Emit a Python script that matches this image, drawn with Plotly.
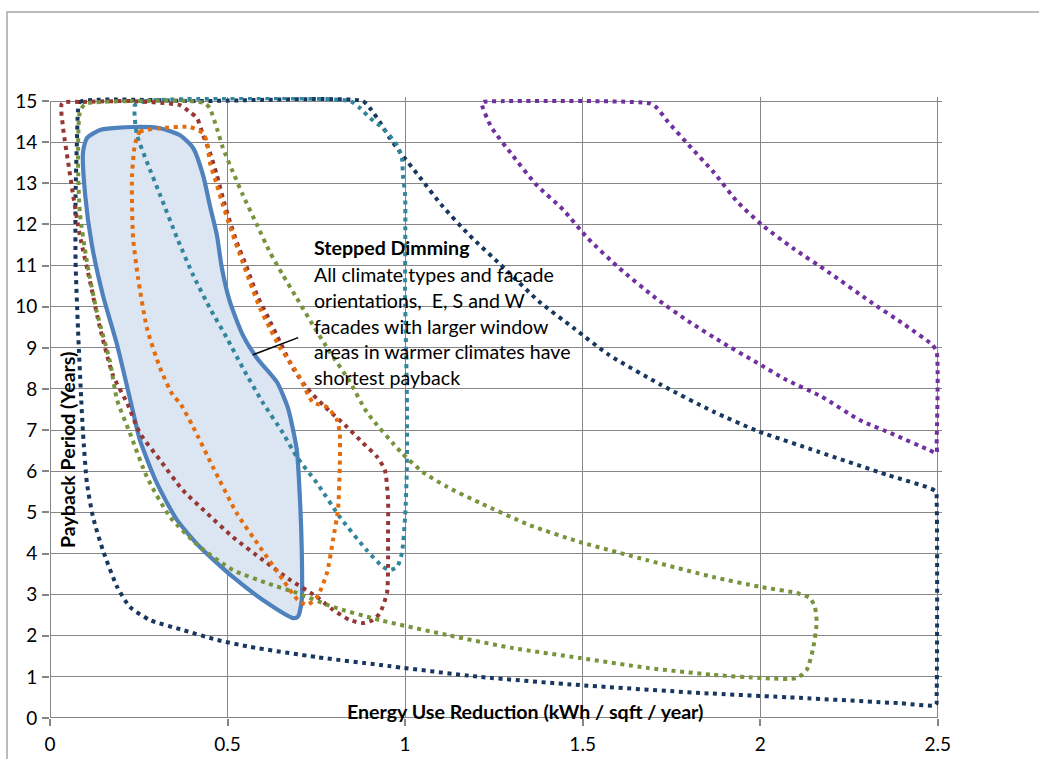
import plotly.graph_objects as go

# ---------------- data ----------------
blue_x = [0.093, 0.104, 0.141, 0.234, 0.310, 0.366, 0.403, 0.431, 0.450, 0.470, 0.484, 0.507, 0.543, 0.583,
          0.639, 0.670, 0.695, 0.704, 0.709, 0.709, 0.698, 0.684, 0.611, 0.515, 0.422, 0.358, 0.301, 0.253,
          0.234, 0.189, 0.149, 0.118, 0.099, 0.093]
blue_y = [13.76, 14.10, 14.30, 14.37, 14.34, 14.17, 13.86, 13.20, 12.47, 11.74, 10.94, 10.11, 9.31, 8.75,
          8.17, 7.54, 6.52, 5.30, 4.08, 2.87, 2.46, 2.43, 2.80, 3.43, 4.16, 4.81, 5.71, 6.76,
          7.44, 9.07, 10.28, 11.50, 12.72, 13.76]

navy_x = [0.079, 0.084, 0.422, 0.881, 0.901, 0.929, 0.957, 0.985, 1.044, 1.103, 1.181, 1.279, 1.377, 1.475,
          1.574, 1.721, 1.868, 1.995, 2.162, 2.358, 2.494, 2.497, 2.497, 2.495, 2.393, 2.111, 1.830, 1.492,
          1.211, 0.929, 0.752, 0.563, 0.470, 0.374, 0.282, 0.225, 0.189, 0.149, 0.121, 0.104, 0.093, 0.088,
          0.079, 0.072, 0.072, 0.076, 0.079]
navy_y = [14.78, 14.98, 15.0, 15.0, 14.83, 14.49, 14.10, 13.77, 13.12, 12.47, 11.74, 10.94, 10.13, 9.48,
          8.83, 8.10, 7.45, 6.97, 6.48, 5.91, 5.51, 5.25, 0.55, 0.32, 0.36, 0.49, 0.61, 0.80,
          1.00, 1.29, 1.48, 1.73, 1.90, 2.14, 2.38, 2.70, 3.19, 4.08, 4.89, 5.71, 6.93, 7.73,
          9.43, 11.09, 12.72, 14.10, 14.78]

purple_x = [1.216, 1.221, 1.279, 1.691, 1.711, 1.740, 1.799, 1.868, 1.936, 2.005, 2.093, 2.191, 2.309, 2.407,
            2.485, 2.497, 2.497, 2.497, 2.475, 2.377, 2.279, 2.172, 2.074, 1.985, 1.897, 1.799, 1.706, 1.603,
            1.515, 1.446, 1.368, 1.302, 1.242, 1.216]
purple_y = [14.94, 14.98, 15.0, 14.94, 14.82, 14.50, 13.93, 13.28, 12.55, 11.99, 11.42, 10.85, 10.13, 9.56,
            9.07, 8.90, 6.65, 6.44, 6.52, 6.89, 7.25, 7.82, 8.22, 8.67, 9.11, 9.64, 10.21, 10.94,
            11.66, 12.35, 12.98, 13.69, 14.38, 14.94]

teal_x = [0.239, 0.267, 0.845, 0.873, 0.901, 0.938, 0.977, 0.991, 0.994, 1.000, 1.000, 1.005, 1.005, 1.000,
          0.991, 0.977, 0.957, 0.938, 0.892, 0.816, 0.752, 0.695, 0.656, 0.600, 0.543, 0.498, 0.450, 0.403,
          0.358, 0.310, 0.273, 0.245, 0.239, 0.239]
teal_y = [14.90, 15.0, 15.0, 14.83, 14.59, 14.34, 13.93, 13.62, 13.20, 12.72, 10.28, 7.85, 6.10, 4.89,
          4.01, 3.67, 3.60, 3.67, 4.08, 4.89, 5.71, 6.35, 6.93, 7.66, 8.51, 9.24, 9.97, 10.77,
          11.67, 12.72, 13.52, 14.17, 14.59, 14.90]

red_x = [0.034, 0.093, 0.225, 0.366, 0.394, 0.414, 0.431, 0.450, 0.470, 0.487, 0.507, 0.526, 0.555, 0.583,
         0.611, 0.648, 0.684, 0.724, 0.769, 0.836, 0.881, 0.921, 0.943, 0.952, 0.952, 0.952, 0.949, 0.929,
         0.909, 0.881, 0.845, 0.797, 0.752, 0.676, 0.600, 0.515, 0.442, 0.374, 0.310, 0.253, 0.217, 0.177,
         0.141, 0.113, 0.084, 0.065, 0.051, 0.037, 0.034]
red_y = [14.95, 14.98, 15.0, 14.90, 14.73, 14.59, 14.17, 13.76, 13.20, 12.64, 12.06, 11.57, 10.94, 10.28,
         9.80, 9.14, 8.51, 8.02, 7.61, 7.08, 6.69, 6.35, 6.03, 5.30, 4.50, 3.67, 3.04, 2.55,
         2.38, 2.31, 2.38, 2.63, 2.94, 3.36, 3.84, 4.40, 4.98, 5.54, 6.27, 6.93, 7.66, 8.34,
         9.48, 10.60, 11.74, 12.72, 13.52, 14.34, 14.95]

orange_x = [0.239, 0.253, 0.310, 0.394, 0.431, 0.442, 0.450, 0.470, 0.487, 0.512, 0.535, 0.563, 0.591, 0.619,
            0.648, 0.676, 0.704, 0.740, 0.780, 0.808, 0.816, 0.816, 0.811, 0.797, 0.780, 0.752, 0.724, 0.698,
            0.656, 0.591, 0.526, 0.459, 0.403, 0.366, 0.346, 0.310, 0.273, 0.248, 0.234, 0.231, 0.231, 0.239]
orange_y = [13.93, 14.25, 14.34, 14.37, 14.22, 14.00, 13.52, 12.96, 12.47, 11.82, 11.26, 10.60, 9.97, 9.48,
            9.00, 8.66, 8.27, 7.68, 7.56, 7.25, 6.93, 6.10, 5.06, 4.33, 3.53, 2.94, 2.75, 2.87,
            3.36, 4.16, 4.98, 6.10, 7.08, 7.66, 7.85, 8.51, 9.48, 10.70, 11.67, 12.47, 13.20, 13.93]

green_x = [0.099, 0.225, 0.394, 0.436, 0.450, 0.470, 0.487, 0.515, 0.543, 0.583, 0.619, 0.656, 0.695, 0.740,
           0.788, 0.845, 0.892, 0.991, 1.050, 1.118, 1.211, 1.351, 1.492, 1.681, 1.867, 1.999, 2.103, 2.140,
           2.154, 2.159, 2.148, 2.131, 2.103, 2.007, 1.867, 1.681, 1.492, 1.303, 1.118, 0.929, 0.797, 0.695,
           0.611, 0.515, 0.422, 0.338, 0.273, 0.225, 0.189, 0.169, 0.132, 0.104, 0.084, 0.079, 0.084, 0.099]
green_y = [14.93, 15.0, 15.0, 14.95, 14.83, 14.34, 13.86, 13.28, 12.72, 11.99, 11.33, 10.77, 10.21, 9.56,
           8.90, 8.17, 7.44, 6.44, 5.98, 5.62, 5.23, 4.69, 4.28, 3.84, 3.43, 3.19, 3.04, 2.92,
           2.70, 2.31, 1.65, 1.17, 0.97, 0.97, 1.05, 1.22, 1.46, 1.70, 2.02, 2.38, 2.70, 3.04,
           3.28, 3.60, 4.16, 4.89, 5.86, 6.93, 7.73, 8.66, 9.87, 11.09, 12.30, 13.52, 14.73, 14.93]

pointer_x = [0.571, 0.699]
pointer_y = [8.83, 9.25]

x_ticks = [0, 0.5, 1, 1.5, 2, 2.5]
x_tick_labels = ["0", "0.5", "1", "1.5", "2", "2.5"]
y_ticks = list(range(0, 16))
x_max, y_max = 2.5, 15

note_title = "Stepped Dimming"
note_lines = ["All climate types and facade",
              "orientations,\u00a0 E, S and W",
              "facades with larger window",
              "areas in warmer climates have",
              "shortest payback"]
note_x = 0.7376
note_y = [11.43, 10.79, 10.16, 9.51, 8.90, 8.27]

x_title = "Energy Use Reduction (kWh / sqft / year)"
y_title = "Payback Period (Years)"

# ---------------- figure ----------------
FONT = "Lato, Calibri, Carlito, sans-serif"
TXT = 19.6
DOT = "4px,4.6px"
AXIS_COL = "#868686"

fig = go.Figure()

fig.add_trace(go.Scatter(x=blue_x, y=blue_y, mode="lines", fill="toself",
                         fillcolor="#DCE6F2", line=dict(color="#4F81BD", width=4.2, shape="spline", smoothing=0.6),
                         hoverinfo="skip", showlegend=False))

dotted = [
    (navy_x, navy_y, "#17375E"),
    (purple_x, purple_y, "#7030A0"),
    (teal_x, teal_y, "#31859C"),
    (red_x, red_y, "#953735"),
    (green_x, green_y, "#77933C"),
    (orange_x, orange_y, "#E46C0A"),
]
for xs, ys, col in dotted:
    fig.add_trace(go.Scatter(x=xs, y=ys, mode="lines",
                             line=dict(color=col, width=4, dash=DOT, shape="spline", smoothing=0.6),
                             hoverinfo="skip", showlegend=False))

fig.add_trace(go.Scatter(x=pointer_x, y=pointer_y, mode="lines",
                         line=dict(color="black", width=1.5), hoverinfo="skip", showlegend=False))

annotations = [dict(x=note_x, y=note_y[0], xref="x", yref="y", text="<b>" + note_title + "</b>",
                    showarrow=False, xanchor="left", yanchor="middle",
                    font=dict(family=FONT, size=TXT, color="black"))]
for txt, yy in zip(note_lines, note_y[1:]):
    annotations.append(dict(x=note_x, y=yy, xref="x", yref="y", text=txt, showarrow=False,
                            xanchor="left", yanchor="middle",
                            font=dict(family=FONT, size=TXT, color="black")))
annotations.append(dict(x=0.5325, y=0.0097, xref="paper", yref="paper", text="<b>" + x_title + "</b>",
                        showarrow=False, xanchor="center", yanchor="middle",
                        font=dict(family=FONT, size=TXT, color="black")))
annotations.append(dict(x=0.0202, y=0.4316, xref="paper", yref="paper", text="<b>" + y_title + "</b>",
                        showarrow=False, xanchor="center", yanchor="middle", textangle=-90,
                        font=dict(family=FONT, size=TXT, color="black")))

shapes = [
    # outer chart frame (left and top edges visible)
    dict(type="rect", xref="paper", yref="paper", x0=-0.0482, x1=1.2, y0=-0.2, y1=1.1369,
         line=dict(color="#A6A6A6", width=1.5), fillcolor="rgba(0,0,0,0)", layer="below"),
    # small white gap in top gridline
    dict(type="rect", xref="x", yref="y", x0=0.985, x1=1.018, y0=14.78, y1=15.15,
         line=dict(width=0), fillcolor="white", layer="below"),
    # axis lines (drawn exactly over the data range)
    dict(type="line", xref="x", yref="y", x0=0, x1=x_max, y0=0, y1=0,
         line=dict(color=AXIS_COL, width=2), layer="above"),
    dict(type="line", xref="x", yref="y", x0=0, x1=0, y0=0, y1=y_max,
         line=dict(color=AXIS_COL, width=2), layer="above"),
]

fig.update_layout(
    width=1039, height=759,
    margin=dict(l=50, r=97, t=97, b=41),
    paper_bgcolor="white", plot_bgcolor="white",
    font=dict(family=FONT, size=19, color="black"),
    annotations=annotations, shapes=shapes,
)
fig.update_xaxes(range=[0, 2.512], tickvals=x_ticks, ticktext=x_tick_labels,
                 showgrid=True, gridcolor="#878787", gridwidth=1,
                 showline=False,
                 ticks="outside", ticklen=7, tickcolor=AXIS_COL, tickwidth=1.5,
                 ticklabelstandoff=2, zeroline=False, automargin=False,
                 tickfont=dict(family=FONT, size=19, color="black"))
fig.update_yaxes(range=[0, 15.1], tickvals=y_ticks,
                 showgrid=True, gridcolor="#878787", gridwidth=1,
                 showline=False,
                 ticks="outside", ticklen=7, tickcolor=AXIS_COL, tickwidth=1.5,
                 ticklabelstandoff=1, zeroline=False, automargin=False,
                 tickfont=dict(family=FONT, size=19, color="black"))

fig.write_html("out.html", config={"displayModeBar": False},
               post_script="document.body.style.margin='0';document.body.style.overflow='hidden';")
